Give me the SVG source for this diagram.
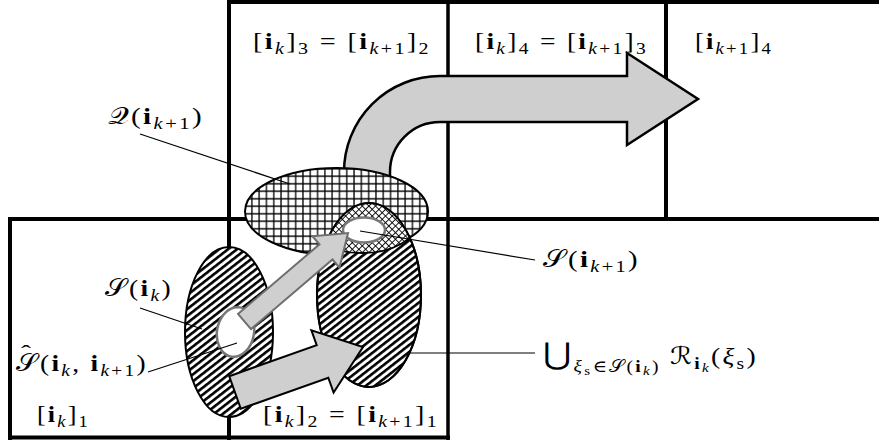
<svg xmlns="http://www.w3.org/2000/svg" width="879" height="444" viewBox="0 0 879 444">
<style>
.t{font-family:"Liberation Serif","DejaVu Serif","DejaVu Sans",serif;font-size:24px;fill:#000;letter-spacing:2px}
.b{font-weight:bold}
.it{font-style:italic}
.s{font-size:17px}
.ss{font-size:13px}
.cell{stroke:#000;stroke-width:4;fill:none}
.ell{stroke:#000;stroke-width:2}
.lead{stroke:#000;stroke-width:1.2;fill:none}
.garrow{fill:#cfcfcf}
</style>
<defs>
<pattern id="hatch" patternUnits="userSpaceOnUse" width="5.5" height="5.5" patternTransform="rotate(52)">
<rect width="5.5" height="5.5" fill="#fff"/><rect width="2.6" height="5.5" fill="#000"/>
</pattern>
<pattern id="grid" patternUnits="userSpaceOnUse" width="7.3" height="7.5">
<rect width="7.3" height="7.5" fill="#fff"/><path d="M0,3.75 H7.3 M3.65,0 V7.5" stroke="#000" stroke-width="1.3" fill="none"/>
</pattern>
<pattern id="cross" patternUnits="userSpaceOnUse" width="4.7" height="4.7" patternTransform="rotate(45)">
<rect width="4.7" height="4.7" fill="#fff"/><path d="M0,2.35 H4.7 M2.35,0 V4.7" stroke="#000" stroke-width="0.9" fill="none"/>
</pattern>
<clipPath id="rclip"><ellipse cx="369" cy="295" rx="52" ry="92"/></clipPath>
</defs>

<g id="cells">
<path class="cell" d="M229,2 H879 M8,219 H879 M10,217 V440 M8,437.5 H450 M229,0 V440 M666,0 V219"/>
<path class="cell" style="stroke-width:3.5" d="M448,0 V440"/>
</g>

<g id="flow-arrow">
<path d="M344,200 L344,172 A96,96 0 0 1 440,76 L627,76 L627,53 L698,99 L627,145 L627,122 L440,122 A50,50 0 0 0 390,172 L390,200 Z" fill="#cfcfcf" stroke="#000" stroke-width="2.5" stroke-linejoin="miter"/>
</g>

<g id="Q">
<ellipse class="ell" cx="336.5" cy="211.5" rx="91.5" ry="43.5" fill="url(#grid)"/>
</g>

<g id="S_k">
<ellipse class="ell" cx="229" cy="332" rx="44" ry="85" fill="url(#hatch)"/>
</g>

<g id="R_union">
<ellipse class="ell" cx="369" cy="295" rx="52" ry="92" fill="url(#hatch)"/>
</g>

<g id="S_k1">
<g clip-path="url(#rclip)">
<ellipse cx="362" cy="222" rx="55" ry="31" fill="url(#cross)" stroke="#000" stroke-width="1.8"/>
</g>
<ellipse cx="369" cy="295" rx="52" ry="92" fill="none" stroke="#000" stroke-width="2"/>
<ellipse cx="364" cy="230" rx="21" ry="12.5" fill="#fff" stroke="#777" stroke-width="2.5"/>
</g>

<g id="S_hat">
<ellipse cx="235.5" cy="332" rx="18.5" ry="25" transform="rotate(10 235.5 332)" fill="#fff" stroke="#777" stroke-width="2.5"/>
</g>

<g id="arrow-up">
<polygon class="garrow" points="238,313.9 319.5,244.3 312.5,236.2 348,233 339.5,267.6 332.5,259.5 251,329.1" stroke="#6e6e6e" stroke-width="2"/>
</g>
<g id="arrow-right">
<polygon class="garrow" points="229.2,376.2 316.7,345.1 311.4,330.3 363,347 333.6,392.5 328.3,377.7 240.8,408.8" stroke="#000" stroke-width="2"/>
</g>

<g id="connectors">
<line class="lead" x1="140" y1="134" x2="290" y2="184"/>
<line class="lead" x1="140" y1="308" x2="202" y2="329"/>
<line class="lead" x1="148" y1="372" x2="237" y2="343"/>
<line class="lead" x1="360" y1="231" x2="535" y2="260"/>
<line class="lead" x1="410" y1="353" x2="535" y2="353"/>
</g>

<g id="labels">
<text class="t" x="253" y="49" textLength="178" lengthAdjust="spacingAndGlyphs">[<tspan class="b">i</tspan><tspan class="s it" dy="5">k</tspan><tspan dy="-5">]</tspan><tspan class="s" dy="5">3</tspan><tspan dy="-5"> = [</tspan><tspan class="b">i</tspan><tspan class="s" dy="5"><tspan class="it">k</tspan>+1</tspan><tspan dy="-5">]</tspan><tspan class="s" dy="5">2</tspan></text>
<text class="t" x="475" y="49" textLength="173" lengthAdjust="spacingAndGlyphs">[<tspan class="b">i</tspan><tspan class="s it" dy="5">k</tspan><tspan dy="-5">]</tspan><tspan class="s" dy="5">4</tspan><tspan dy="-5"> = [</tspan><tspan class="b">i</tspan><tspan class="s" dy="5"><tspan class="it">k</tspan>+1</tspan><tspan dy="-5">]</tspan><tspan class="s" dy="5">3</tspan></text>
<text class="t" x="695" y="49" textLength="78" lengthAdjust="spacingAndGlyphs">[<tspan class="b">i</tspan><tspan class="s" dy="5"><tspan class="it">k</tspan>+1</tspan><tspan dy="-5">]</tspan><tspan class="s" dy="5">4</tspan></text>
<text class="t" x="108" y="124" textLength="96" lengthAdjust="spacingAndGlyphs">𝒬(<tspan class="b">i</tspan><tspan class="s" dy="5"><tspan class="it">k</tspan>+1</tspan><tspan dy="-5">)</tspan></text>
<text class="t" x="105" y="296" textLength="68" lengthAdjust="spacingAndGlyphs">𝒮(<tspan class="b">i</tspan><tspan class="s it" dy="5">k</tspan><tspan dy="-5">)</tspan></text>
<text class="t" x="21" y="358" style="font-size:18px;letter-spacing:0" textLength="10" lengthAdjust="spacingAndGlyphs">ˆ</text>
<text class="t" x="16" y="371" textLength="132" lengthAdjust="spacingAndGlyphs">𝒮(<tspan class="b">i</tspan><tspan class="s it" dy="5">k</tspan><tspan dy="-5">, </tspan><tspan class="b">i</tspan><tspan class="s" dy="5"><tspan class="it">k</tspan>+1</tspan><tspan dy="-5">)</tspan></text>
<text class="t" x="37" y="422" textLength="53" lengthAdjust="spacingAndGlyphs">[<tspan class="b">i</tspan><tspan class="s it" dy="5">k</tspan><tspan dy="-5">]</tspan><tspan class="s" dy="5">1</tspan></text>
<text class="t" x="263" y="422" textLength="176" lengthAdjust="spacingAndGlyphs">[<tspan class="b">i</tspan><tspan class="s it" dy="5">k</tspan><tspan dy="-5">]</tspan><tspan class="s" dy="5">2</tspan><tspan dy="-5"> = [</tspan><tspan class="b">i</tspan><tspan class="s" dy="5"><tspan class="it">k</tspan>+1</tspan><tspan dy="-5">]</tspan><tspan class="s" dy="5">1</tspan></text>
<text class="t" x="543" y="267" textLength="97" lengthAdjust="spacingAndGlyphs">𝒮(<tspan class="b">i</tspan><tspan class="s" dy="5"><tspan class="it">k</tspan>+1</tspan><tspan dy="-5">)</tspan></text>
<text class="t" x="543" y="364" textLength="215" lengthAdjust="spacingAndGlyphs"><tspan style="font-size:30px">⋃</tspan><tspan class="s" dy="8"><tspan class="it">ξ</tspan><tspan class="ss" dy="3">s</tspan><tspan dy="-3">∈𝒮(</tspan><tspan class="b">i</tspan><tspan class="ss it" dy="3">k</tspan><tspan dy="-3">)</tspan></tspan><tspan dy="-8"> ℛ</tspan><tspan class="s" dy="5"><tspan class="b">i</tspan><tspan class="ss it" dy="3">k</tspan></tspan><tspan dy="-8">(</tspan><tspan class="it">ξ</tspan><tspan class="s" dy="5">s</tspan><tspan dy="-5">)</tspan></text>
</g>
</svg>
